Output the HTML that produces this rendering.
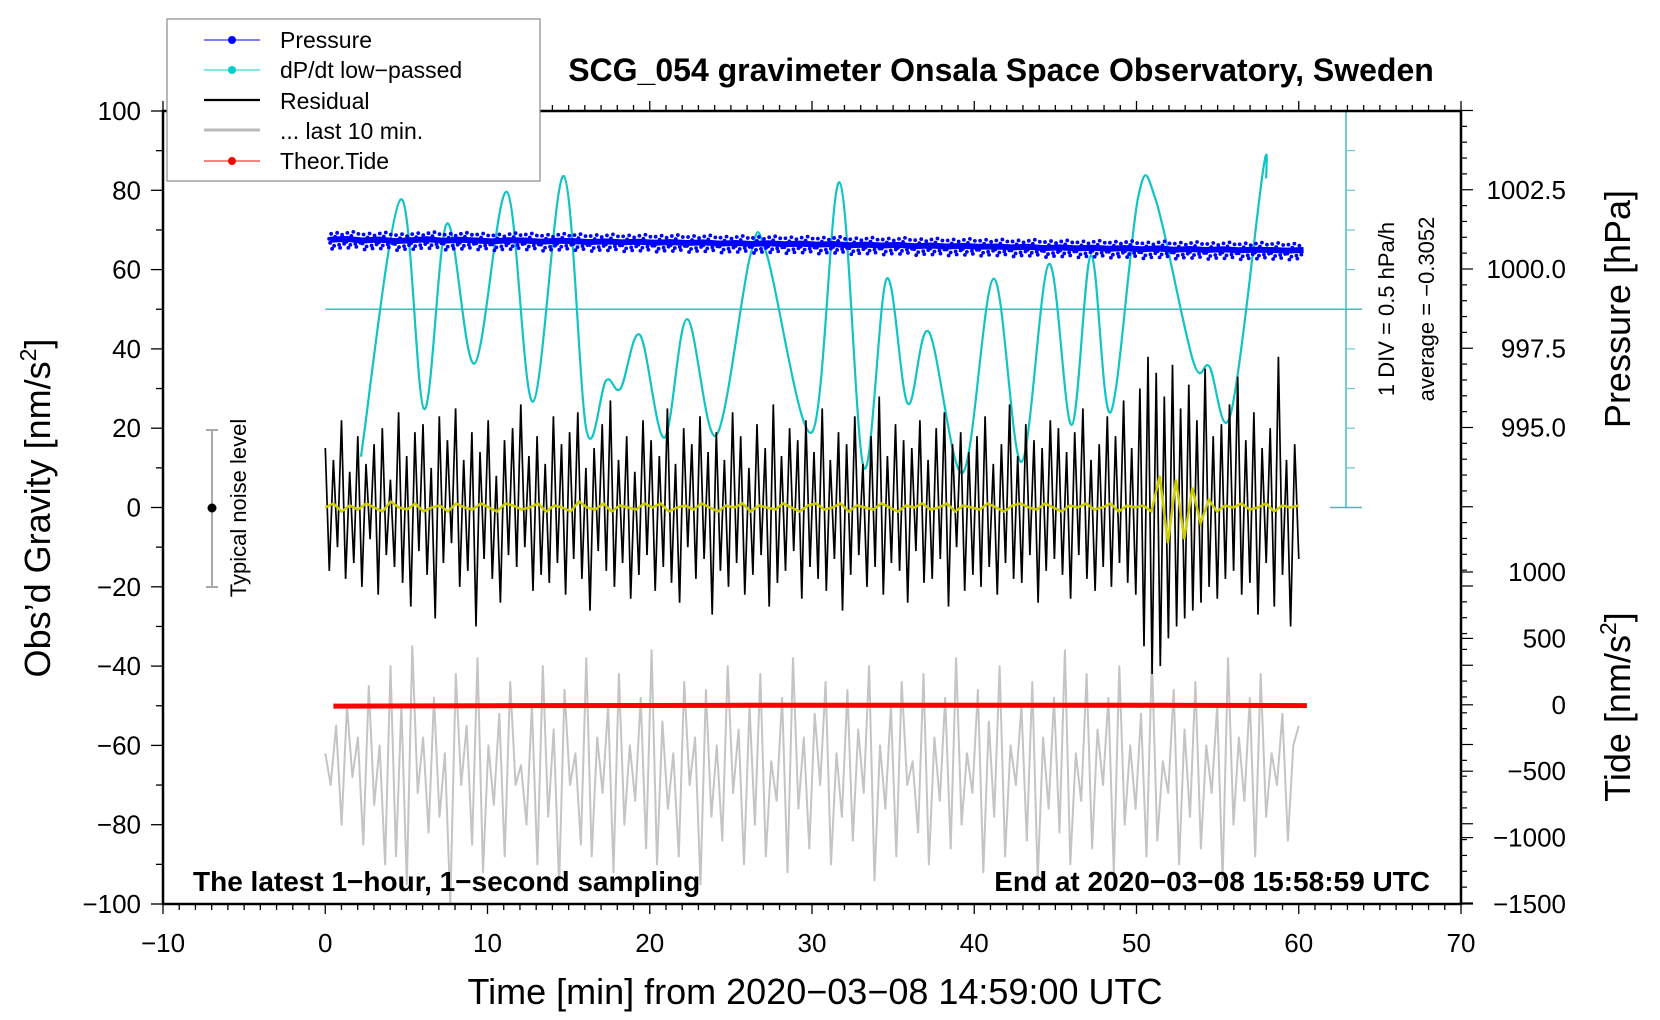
<!DOCTYPE html>
<html><head><meta charset="utf-8"><style>
html,body{margin:0;padding:0;background:#fff}
svg{display:block;font-family:"Liberation Sans",Arial,sans-serif}
</style></head><body>
<svg id="chart" width="1660" height="1020" viewBox="0 0 1660 1020" xmlns="http://www.w3.org/2000/svg">
<rect width="1660" height="1020" fill="#fff"/>
<g id="series"></g>
<g id="axes"></g>
<text x="1001" y="81" text-anchor="middle" font-size="32" font-weight="bold">SCG_054 gravimeter Onsala Space Observatory, Sweden</text>
<text transform="translate(50,508) rotate(-90)" text-anchor="middle" font-size="36">Obs’d Gravity [nm/s<tspan font-size="23" dy="-14">2</tspan><tspan dy="14">]</tspan></text>
<text transform="translate(1630,309) rotate(-90)" text-anchor="middle" font-size="36">Pressure [hPa]</text>
<text transform="translate(1630,707) rotate(-90)" text-anchor="middle" font-size="36">Tide [nm/s<tspan font-size="23" dy="-14">2</tspan><tspan dy="14">]</tspan></text>
<text x="815" y="1004" text-anchor="middle" font-size="36">Time [min] from 2020−03−08 14:59:00 UTC</text>
<text x="193" y="891" font-size="28" font-weight="bold">The latest 1−hour, 1−second sampling</text>
<text x="1430" y="891" text-anchor="end" font-size="28" font-weight="bold">End at 2020−03−08 15:58:59 UTC</text>
<g>
<line x1="212" y1="430" x2="212" y2="587" stroke="#aaa" stroke-width="2"/>
<line x1="206" y1="430" x2="218" y2="430" stroke="#aaa" stroke-width="2"/>
<line x1="206" y1="587" x2="218" y2="587" stroke="#aaa" stroke-width="2"/>
<circle cx="212" cy="508" r="4.5" fill="#000"/>
<text transform="translate(246,508) rotate(-90)" text-anchor="middle" font-size="22">Typical noise level</text>
</g>
<g>
<text transform="translate(1394,309) rotate(-90)" text-anchor="middle" font-size="22">1 DIV = 0.5 hPa/h</text>
<text transform="translate(1434,309) rotate(-90)" text-anchor="middle" font-size="22">average = −0.3052</text>
</g>
<g>
<rect x="167" y="19" width="373" height="162" fill="#fff" stroke="#888" stroke-width="1.2"/>
<g><line x1="204" y1="40" x2="260" y2="40" stroke="#00f" stroke-width="1"/><circle cx="232" cy="40" r="4" fill="#00f"/><text x="280" y="48" font-size="23">Pressure</text></g>
<g><line x1="204" y1="70" x2="260" y2="70" stroke="#00cccc" stroke-width="1"/><circle cx="232" cy="70" r="4" fill="#00cccc"/><text x="280" y="78" font-size="23">dP/dt low−passed</text></g>
<g><line x1="204" y1="100" x2="260" y2="100" stroke="#000" stroke-width="2.2"/><text x="280" y="109" font-size="23">Residual</text></g>
<g><line x1="204" y1="130" x2="260" y2="130" stroke="#bbb" stroke-width="3"/><text x="280" y="139" font-size="23">... last 10 min.</text></g>
<g><line x1="204" y1="161" x2="260" y2="161" stroke="#f00" stroke-width="1"/><circle cx="232" cy="161" r="4" fill="#f00"/><text x="280" y="169" font-size="23">Theor.Tide</text></g>
</g>
</svg>
<script>
// ---- data ----
const residual = [15,-16,12,-10,22,-18,9,-14,18,-20,11,-8,16,-22,20,-12,7,-15,24,-19,
13,-25,19,-11,21,-17,10,-28,23,-14,17,-9,25,-20,12,-16,19,-30,14,-13,
22,-18,8,-24,17,-12,20,-15,26,-10,13,-21,18,-17,11,-19,23,-14,16,-22,
19,-13,24,-18,10,-26,15,-11,21,-16,27,-20,12,-14,18,-23,9,-17,22,-12,
17,-21,13,-15,25,-19,11,-24,20,-10,16,-18,23,-13,14,-27,19,-16,12,-20,
24,-14,18,-22,10,-17,21,-12,15,-25,26,-19,13,-16,20,-11,17,-23,22,-15,
14,-18,25,-21,12,-13,19,-26,16,-17,23,-12,11,-20,18,-15,28,-22,13,-14,
21,-16,17,-24,15,-11,22,-19,12,-18,20,-13,24,-25,16,-10,19,-21,14,-17,
18,-20,23,-15,11,-22,16,-14,26,-18,13,-19,21,-12,17,-24,15,-16,22,-13,
20,-17,14,-23,19,-12,25,-18,12,-21,16,-15,23,-20,18,-14,27,-19,15,-22,
30,-35,38,-42,34,-40,28,-33,36,-30,25,-28,31,-26,22,-24,35,-20,18,-23,
21,-18,26,-16,33,-22,17,-19,24,-27,15,-14,20,-25,38,-17,12,-30,16,-13];
const lastTen = [-62,-70,-55,-80,-50,-68,-58,-85,-45,-75,-60,-90,-40,-88,-50,-95,-35,-72,-58,-82,
-48,-78,-62,-100,-42,-70,-55,-85,-38,-92,-60,-75,-52,-88,-44,-70,-65,-80,-50,-90,
-40,-78,-56,-95,-46,-70,-62,-85,-38,-88,-58,-72,-50,-92,-42,-80,-60,-74,-48,-86,
-36,-90,-54,-76,-62,-88,-44,-70,-58,-95,-46,-78,-60,-84,-40,-72,-56,-90,-50,-80,
-42,-88,-64,-74,-48,-92,-38,-76,-58,-86,-52,-70,-44,-90,-62,-78,-46,-84,-56,-72,
-40,-94,-60,-76,-50,-88,-44,-70,-64,-82,-42,-90,-58,-74,-48,-86,-38,-80,-62,-72,
-46,-92,-54,-78,-40,-88,-60,-70,-50,-84,-44,-94,-58,-76,-48,-82,-36,-90,-62,-74,
-42,-86,-56,-70,-48,-92,-40,-80,-60,-76,-52,-88,-38,-84,-64,-72,-46,-90,-56,-78,
-44,-86,-60,-72,-50,-94,-38,-80,-58,-74,-48,-88,-42,-78,-62,-70,-52,-84,-60,-55];
const filtered = [0,1,-1,0.5,-0.5,1,0,-1,1.5,0,-0.5,1,-1,0,0.5,-1,1,0,-0.5,1,
0,-1,1,0.5,-0.5,0,1,-1,0.5,0,-1,1.5,0,-0.5,1,-1,0.5,0,-0.5,1,
0,1,-1,0,0.5,-0.5,1,0,-1,0.5,0,1,-1,0.5,0,-0.5,1,0,-1,0.5,
1,-0.5,0,1,-1,0.5,0,-0.5,1,0,-1,0.5,0,1,-0.5,0,1,-1,0.5,0,
-0.5,1,0,-1,0.5,1,0,-0.5,1,0,-1,0.5,0,1,-0.5,0,1,-1,0.5,0,
0.5,-1,8,-9,7,-8,5,-4,2,-1,0.5,0,1,-0.5,0,1,-1,0.5,0,0.5];
const pressure = [1000.92,1000.95,1000.9,1000.93,1000.88,1000.91,1000.94,1000.89,1000.92,1000.9,
1000.87,1000.91,1000.9,1000.86,1000.89,1000.88,1000.85,1000.87,1000.84,1000.86,
1000.83,1000.85,1000.82,1000.84,1000.8,1000.82,1000.79,1000.81,1000.78,1000.8,
1000.77,1000.79,1000.75,1000.77,1000.74,1000.76,1000.72,1000.74,1000.71,1000.73,
1000.7,1000.71,1000.68,1000.7,1000.66,1000.68,1000.65,1000.67,1000.64,1000.66,
1000.62,1000.65,1000.61,1000.63,1000.6,1000.62,1000.59,1000.61,1000.6,1000.58,1000.6];
const dpdtTimes = [2.2,4.65,6.1,7.5,9.2,11.2,12.8,14.7,16.1,17.3,18.2,19.4,20.9,22.3,24.1,26.2,27.2,30,31.7,33.2,34.6,35.9,37.2,39.3,41.2,42.9,44.6,46,47.2,48.4,50.1,51.2,53.5,54.5,55.8,57.8,58];
const dpdtValues = [12.8,77.7,24.8,71.6,36.3,79.6,26.7,83.6,19.5,32,30,43.5,17.6,47.5,18.2,63.6,64,19,82,10,57.7,26.2,44.3,8.8,57.7,11.5,61.4,20.8,63.6,24,78.2,77.4,36.8,35.5,23.5,85,83];
const tideTimes = [0.5,10,20,30,40,50,60.5];
const tideValues = [-10,-7,-5,-3,-3,-4,-6];
const xTicks = [-10,0,10,20,30,40,50,60,70];
const yTicks = [100,80,60,40,20,0,-20,-40,-60,-80,-100];
const pTicks = [1002.5,1000.0,997.5,995.0];
const tideTicks = [1000,500,0,-500,-1000,-1500];

// ---- scales ----
const X0=163, X1=1461, Y0=111, Y1=904;
const xs = t => X0 + (t+10)/80*(X1-X0);
const ys = g => Y0 + (100-g)/200*(Y1-Y0);
const ps = p => 269 - (p-1000)*31.7;
const ts = v => Y1 - (v+1500)/500*66.4;
const NS="http://www.w3.org/2000/svg";
const series=document.getElementById('series'), axes=document.getElementById('axes');
function mk(tag, parent, attrs){const e=document.createElementNS(NS,tag);for(const k in attrs)e.setAttribute(k,attrs[k]);parent.appendChild(e);return e;}
function poly(arr, t0, t1){const n=arr.length;return arr.map((v,i)=>xs(t0+(t1-t0)*i/(n-1)).toFixed(1)+','+ys(v).toFixed(1)).join(' ');}

// dP/dt scale axis
const sc = mk('g', series, {});


mk('line', sc, {x1:1346,y1:Y0,x2:1346,y2:ys(0),stroke:'#44bbbb','stroke-width':1.5});
mk('line', sc, {x1:1330,y1:Y0,x2:1362,y2:Y0,stroke:'#44bbbb','stroke-width':1.5});
mk('line', sc, {x1:1330,y1:ys(0),x2:1362,y2:ys(0),stroke:'#44bbbb','stroke-width':1.5});
for(let g=10;g<100;g+=10){ if(g===50) continue; mk('line', sc, {x1:1346,y1:ys(g),x2:1355,y2:ys(g),stroke:'#66cccc','stroke-width':1.2}); }
const avg = mk('line', series, {x1:xs(0),y1:ys(50),x2:1362,y2:ys(50),stroke:'#44bbbb','stroke-width':1.5});



// gray last 10 min
const gl = mk('polyline', series, {points:poly(lastTen,0,60),fill:'none',stroke:'#c4c4c4','stroke-width':2,'stroke-linejoin':'round'});



// cyan dP/dt (Catmull-Rom through data points)
(function(){
  const P = dpdtTimes.map((t,i)=>[xs(t), ys(dpdtValues[i])]);
  let d = 'M'+P[0][0]+','+P[0][1];
  for(let i=0;i<P.length-1;i++){
    const p0=P[Math.max(0,i-1)],p1=P[i],p2=P[i+1],p3=P[Math.min(P.length-1,i+2)];
    const c1=[p1[0]+(p2[0]-p0[0])/6,p1[1]+(p2[1]-p0[1])/6];
    const c2=[p2[0]-(p3[0]-p1[0])/6,p2[1]-(p3[1]-p1[1])/6];
    d+=' C'+c1.join(',')+' '+c2.join(',')+' '+p2.join(',');
  }
  const c = mk('path', series, {d:d,fill:'none',stroke:'#11c4c4','stroke-width':2.2});
  
  
})();

// pressure band + dots
(function(){
  const g = mk('g', series, {});
  
  
  const n=pressure.length;
  const pts=pressure.map((p,i)=>[xs(0.3+60*i/(n-1)), ps(p)]);
  mk('polyline', g, {points:pts.map(p=>p[0].toFixed(1)+','+p[1].toFixed(1)).join(' '),fill:'none',stroke:'#0000ff','stroke-width':6,'stroke-linejoin':'round'});
  const off=[[-6,-6],[5,-5],[-3,6],[7,4],[0,-7],[-7,3],[3,8],[-2,-3],[6,1],[-5,9],[2,5],[-8,-1]];
  pts.forEach((p,i)=>{ if(i===n-1) return; off.forEach((o,k)=>{ mk('circle', g, {cx:p[0]+o[0]+7,cy:p[1]+o[1],r:1.9,fill:'#0000ff'}); }); });
})();

// residual
const rl = mk('polyline', series, {points:poly(residual,0,60),fill:'none',stroke:'#000','stroke-width':1.7});


// filtered residual
const yl = mk('polyline', series, {points:poly(filtered,0,60),fill:'none',stroke:'#cccc00','stroke-width':2.5});


// tide
const tl = mk('polyline', series, {points:tideTimes.map((t,i)=>xs(t).toFixed(1)+','+ts(tideValues[i]).toFixed(1)).join(' '),fill:'none',stroke:'#ff0000','stroke-width':5});



// ---- axes ----
const frame = mk('rect', axes, {x:X0,y:Y0,width:X1-X0,height:Y1-Y0,fill:'none',stroke:'#000','stroke-width':2.5});


for(let t=-10;t<=70;t++){const x=xs(t),L=(t%10===0)?10:6;
  mk('line', axes, {x1:x,y1:Y1,x2:x,y2:Y1+L,stroke:'#000','stroke-width':1.3});
  mk('line', axes, {x1:x,y1:Y0,x2:x,y2:Y0-L,stroke:'#000','stroke-width':1.3});}
xTicks.forEach(t=>{const e=mk('text', axes, {x:xs(t),y:952,'text-anchor':'middle','font-size':26});e.textContent=String(t).replace('-','−');
  
  });
for(let g=-100;g<=100;g+=10){const L=(g%20===0)?12:7;mk('line', axes, {x1:X0,y1:ys(g),x2:X0-L,y2:ys(g),stroke:'#000','stroke-width':1.3});}
yTicks.forEach(g=>{const e=mk('text', axes, {x:141,y:ys(g)+9,'text-anchor':'end','font-size':26});e.textContent=String(g).replace('-','−');
  
  });
for(let p=980;p<=1005.01;p+=0.5){const y=ps(p);if(y<Y0-1||y>Y1+1)continue;const L=(Math.abs((p*2)%5)<0.01)?12:6;mk('line', axes, {x1:X1,y1:y,x2:X1+L,y2:y,stroke:'#000','stroke-width':1.2});}
pTicks.forEach(p=>{const e=mk('text', axes, {x:1566,y:ps(p)+9,'text-anchor':'end','font-size':26});e.textContent=p.toFixed(1);
  
  });
tideTicks.forEach(v=>{mk('line', axes, {x1:X1,y1:ts(v),x2:X1+12,y2:ts(v),stroke:'#000','stroke-width':1.2});
  const e=mk('text', axes, {x:1566,y:ts(v)+9,'text-anchor':'end','font-size':26});e.textContent=String(v).replace('-','−');
  
  });
</script>
</body></html>
